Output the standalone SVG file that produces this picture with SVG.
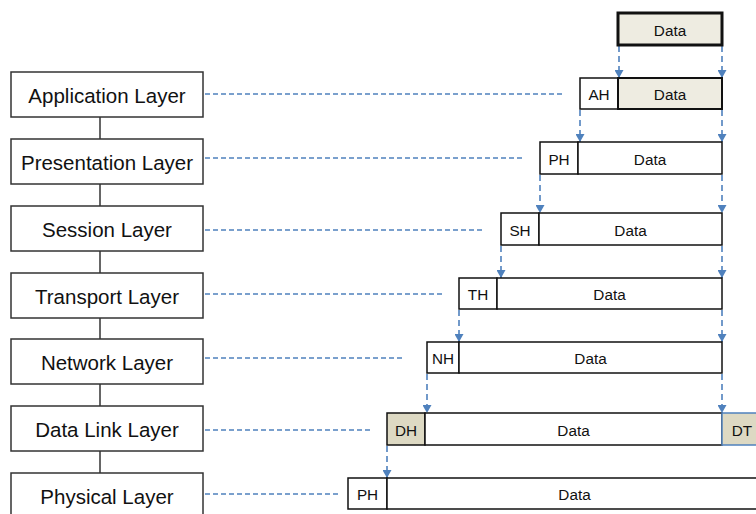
<svg xmlns="http://www.w3.org/2000/svg" width="756" height="514" viewBox="0 0 756 514">
<style>
.layer rect{fill:#fff;stroke:#333;stroke-width:1.5}
.layer text{font-family:"Liberation Sans",Arial,sans-serif;font-size:20.5px;fill:#111;text-anchor:middle}
.pkt rect{fill:#fff;stroke:#111;stroke-width:1.5}
.pkt text{font-family:"Liberation Sans",Arial,sans-serif;font-size:15.3px;fill:#111;text-anchor:middle}
.pkt rect.tan{fill:#EEECE1}
.pkt rect.dk{fill:#DDD9C3}
.link{stroke:#333;stroke-width:1.5;fill:none}
.hd{stroke:#4F81BD;stroke-width:1.3;stroke-dasharray:5 3;fill:none}
.vd{stroke:#4F81BD;stroke-width:1.6;stroke-dasharray:6 4;fill:none;marker-end:url(#ah)}
</style>
<defs>
<marker id="ah" markerUnits="userSpaceOnUse" markerWidth="9" markerHeight="9" refX="8" refY="4.5" orient="auto">
<path d="M0,0 L8,4.5 L0,9 z" fill="#4F81BD"/>
</marker>
</defs>

<g id="connectors">
<line class="link" x1="100" y1="117" x2="100" y2="139"/>
<line class="link" x1="100" y1="184" x2="100" y2="206"/>
<line class="link" x1="100" y1="251" x2="100" y2="273"/>
<line class="link" x1="100" y1="318" x2="100" y2="339"/>
<line class="link" x1="100" y1="384" x2="100" y2="406"/>
<line class="link" x1="100" y1="451" x2="100" y2="473"/>
<line class="hd" x1="205" y1="94" x2="564" y2="94"/>
<line class="hd" x1="205" y1="158" x2="524" y2="158"/>
<line class="hd" x1="205" y1="230" x2="484" y2="230"/>
<line class="hd" x1="205" y1="294" x2="444" y2="294"/>
<line class="hd" x1="205" y1="358" x2="404" y2="358"/>
<line class="hd" x1="205" y1="430" x2="373" y2="430"/>
<line class="hd" x1="205" y1="494" x2="339" y2="494"/>
<line class="vd" x1="619" y1="46" x2="619" y2="78"/>
<line class="vd" x1="722" y1="46" x2="722" y2="78"/>
<line class="vd" x1="580" y1="110" x2="580" y2="142"/>
<line class="vd" x1="722" y1="110" x2="722" y2="142"/>
<line class="vd" x1="540" y1="175" x2="540" y2="213"/>
<line class="vd" x1="722" y1="175" x2="722" y2="213"/>
<line class="vd" x1="501" y1="246" x2="501" y2="278"/>
<line class="vd" x1="722" y1="246" x2="722" y2="278"/>
<line class="vd" x1="459" y1="310" x2="459" y2="342"/>
<line class="vd" x1="722" y1="310" x2="722" y2="342"/>
<line class="vd" x1="427" y1="374" x2="427" y2="413"/>
<line class="vd" x1="722" y1="374" x2="722" y2="413"/>
<line class="vd" x1="387" y1="446" x2="387" y2="478"/>
</g>

<g id="application" class="layer"><rect x="11" y="72" width="192" height="45"/><text x="107" y="103">Application Layer</text></g>
<g id="presentation" class="layer"><rect x="11" y="139" width="192" height="45"/><text x="107" y="170">Presentation Layer</text></g>
<g id="session" class="layer"><rect x="11" y="206" width="192" height="45"/><text x="107" y="237">Session Layer</text></g>
<g id="transport" class="layer"><rect x="11" y="273" width="192" height="45"/><text x="107" y="304">Transport Layer</text></g>
<g id="network" class="layer"><rect x="11" y="339" width="192" height="45"/><text x="107" y="370">Network Layer</text></g>
<g id="datalink" class="layer"><rect x="11" y="406" width="192" height="45"/><text x="107" y="437">Data Link Layer</text></g>
<g id="physical" class="layer"><rect x="11" y="473" width="192" height="45"/><text x="107" y="504">Physical Layer</text></g>

<g id="pkt-data" class="pkt"><rect class="tan" x="618" y="13" width="104" height="32" style="stroke-width:3"/><text x="670" y="35.5">Data</text></g>
<g id="pkt-app" class="pkt">
<rect x="580" y="78" width="38" height="31"/><text x="599" y="100">AH</text>
<rect class="tan" x="618" y="78" width="104" height="31" style="stroke-width:2"/><text x="670" y="100">Data</text>
</g>
<g id="pkt-pres" class="pkt">
<rect x="540" y="142" width="38" height="32"/><text x="559" y="164.5">PH</text>
<rect x="578" y="142" width="144" height="32"/><text x="650" y="164.5">Data</text>
</g>
<g id="pkt-sess" class="pkt">
<rect x="501" y="213" width="38" height="32"/><text x="520" y="235.5">SH</text>
<rect x="539" y="213" width="183" height="32"/><text x="630.5" y="235.5">Data</text>
</g>
<g id="pkt-trans" class="pkt">
<rect x="459" y="278" width="38" height="31"/><text x="478" y="300">TH</text>
<rect x="497" y="278" width="225" height="31"/><text x="609.5" y="300">Data</text>
</g>
<g id="pkt-net" class="pkt">
<rect x="427" y="342" width="32" height="31"/><text x="443" y="364">NH</text>
<rect x="459" y="342" width="263" height="31"/><text x="590.5" y="364">Data</text>
</g>
<g id="pkt-link" class="pkt">
<rect class="dk" x="387" y="413" width="38" height="32"/><text x="406" y="435.5">DH</text>
<rect x="425" y="413" width="297" height="32"/><text x="573.5" y="435.5">Data</text>
<rect class="dk" x="722" y="413" width="40" height="32" style="stroke:#4F81BD"/><text x="742" y="435.5">DT</text>
</g>
<g id="pkt-phys" class="pkt">
<rect x="348" y="478" width="39" height="31"/><text x="367.5" y="500">PH</text>
<rect x="387" y="478" width="375" height="31"/><text x="574.5" y="500">Data</text>
</g>
</svg>
